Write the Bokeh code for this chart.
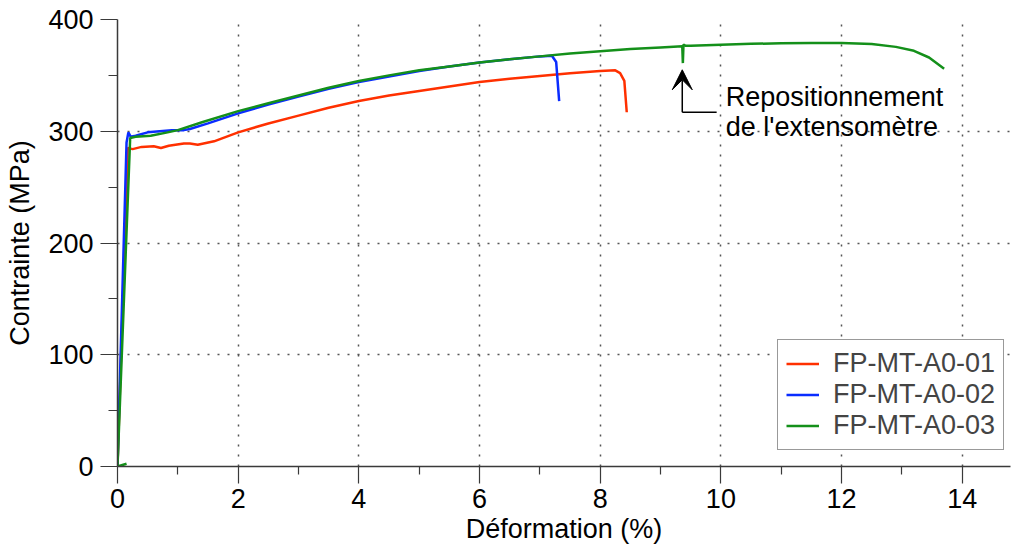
from bokeh.plotting import figure
from bokeh.models import (Range1d, FixedTicker, Legend, LegendItem, Arrow, VeeHead, Label)
from bokeh.embed import file_html
from bokeh.resources import INLINE

# ---- data ----
x_01 = [0, 0.17, 0.25, 0.4, 0.6, 0.72, 0.85, 1.1, 1.2, 1.33, 1.6, 1.8, 2.0, 2.5, 3.0, 3.5,
        4.0, 4.5, 5.0, 5.5, 6.0, 6.5, 7.0, 7.5, 8.0, 8.25, 8.33, 8.4, 8.44]
y_01 = [0, 285, 284, 286, 286.5, 285, 287, 289, 289, 288, 291, 295, 299, 307, 314, 321,
        327, 332, 336, 340, 344, 347, 349.5, 352, 354, 354.5, 352, 345, 317]

x_02 = [0, 0.15, 0.18, 0.22, 0.3, 0.5, 0.7, 0.9, 1.1, 1.2, 1.5, 2.0, 2.5, 3.0, 3.5, 4.0,
        4.5, 5.0, 5.5, 6.0, 6.5, 7.0, 7.2, 7.27, 7.32]
y_02 = [0, 290, 299, 295, 296, 299, 300, 301, 301, 302, 307, 316, 324, 331, 338, 344,
        349, 354, 358, 361.5, 364.5, 367, 367.5, 362, 327]

x_03 = [0.15, 0, 0.21, 0.3, 0.55, 0.83, 1.0, 1.4, 2.0, 2.5, 3.0, 3.5, 4.0, 4.5, 5.0, 5.5,
        6.0, 6.5, 7.0, 7.5, 8.0, 8.5, 9.0, 9.36, 9.37, 9.38, 9.42, 9.5, 10, 10.5, 11, 11.5,
        12, 12.5, 12.9, 13.2, 13.45, 13.7]
y_03 = [2.5, 0, 294, 295, 296, 299, 301, 308, 318, 325, 332, 339, 345, 350, 354.5, 358,
        361.5, 364.5, 367, 369.5, 371.5, 373.5, 375, 376, 361, 377.5, 376.5, 376.5, 377.5, 378.2, 378.7, 379,
        379, 378, 375.5, 372, 366, 356]

series_names = ["FP-MT-A0-01", "FP-MT-A0-02", "FP-MT-A0-03"]
series_colors = ["#ff3000", "#0a2cff", "#14901a"]

x_ticks = [0, 2, 4, 6, 8, 10, 12, 14]
x_minor = [1, 3, 5, 7, 9, 11, 13]
y_ticks = [0, 100, 200, 300, 400]
y_minor = [50, 150, 250, 350]

annot_lines = ["Repositionnement", "de l'extensomètre"]
arrow_x, arrow_y0, arrow_y1, elbow_x = 9.36, 317, 355, 9.93
text_x, text_y = [10.08, 10.08], [331, 304]

FONT = "Liberation Sans"
FS = "27px"

p = figure(width=1019, height=552, output_backend="svg", toolbar_location=None,
           x_range=Range1d(0, 14.8), y_range=Range1d(0, 400),
           min_border_left=117, min_border_top=19, min_border_right=9, min_border_bottom=86)
p.outline_line_color = None
p.background_fill_color = "white"

renderers = []
for xs, ys, c in zip([x_01, x_02, x_03], [y_01, y_02, y_03], series_colors):
    r = p.line(xs, ys, line_color=c, line_width=2.5)
    renderers.append(r)

for ax, ticks, minor in [(p.xaxis[0], x_ticks, x_minor), (p.yaxis[0], y_ticks, y_minor)]:
    ax.ticker = FixedTicker(ticks=ticks, minor_ticks=minor)
    ax.axis_line_color = "#3a3a3a"
    ax.axis_line_width = 1.5
    ax.major_tick_line_color = "#3a3a3a"
    ax.minor_tick_line_color = "#3a3a3a"
    ax.major_tick_line_width = 1.2
    ax.minor_tick_line_width = 1.2
    ax.major_tick_in = 0
    ax.minor_tick_in = 0
    ax.major_label_text_font = FONT
    ax.major_label_text_font_size = FS
    ax.major_label_text_color = "black"
    ax.axis_label_text_font = FONT
    ax.axis_label_text_font_size = FS
    ax.axis_label_text_font_style = "normal"
    ax.axis_label_text_color = "black"

p.xaxis[0].major_tick_out = 17
p.xaxis[0].minor_tick_out = 8
p.xaxis[0].major_label_standoff = 5
p.xaxis[0].axis_label = "Déformation (%)"
p.xaxis[0].axis_label_standoff = 3
p.yaxis[0].major_tick_out = 17
p.yaxis[0].minor_tick_out = 9
p.yaxis[0].major_label_standoff = 7
p.yaxis[0].axis_label = "Contrainte (MPa)"
p.yaxis[0].axis_label_standoff = 10

for g, ticks in [(p.xgrid[0], x_ticks), (p.ygrid[0], y_ticks)]:
    g.ticker = FixedTicker(ticks=ticks)
    g.grid_line_color = "#555555"
    g.grid_line_dash = "2 8"
    g.grid_line_width = 1.5

# annotation
p.add_layout(Arrow(end=VeeHead(size=20, fill_color="black", line_color="black"),
                   x_start=arrow_x, y_start=arrow_y0, x_end=arrow_x, y_end=arrow_y1,
                   line_color="black", line_width=1.5))
p.segment(x0=[arrow_x], y0=[arrow_y0], x1=[elbow_x], y1=[arrow_y0], line_color="black", line_width=1.5)
for t, tx, ty in zip(annot_lines, text_x, text_y):
    p.add_layout(Label(x=tx, y=ty, text=t, text_font=FONT, text_font_size=FS,
                       text_color="black", text_baseline="alphabetic"))

legend = Legend(items=[LegendItem(label=n, renderers=[r]) for n, r in zip(series_names, renderers)],
                location=(660, 16), label_text_font=FONT, label_text_font_size=FS,
                glyph_width=33, glyph_height=31, label_height=31, spacing=0, padding=8,
                label_standoff=14, border_line_color="#333333", border_line_width=1.2,
                background_fill_alpha=1.0, margin=0)
p.add_layout(legend)

open("out.html", "w").write(file_html(p, INLINE))
